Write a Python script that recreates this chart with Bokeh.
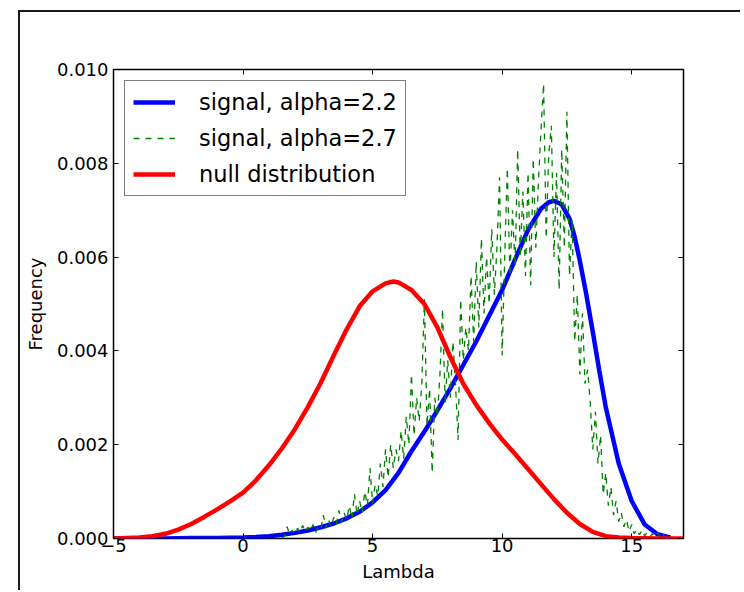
import numpy as np
from bokeh.plotting import figure
from bokeh.models import (LinearAxis, FixedTicker, Legend, LegendItem, Range1d,
                          PrintfTickFormatter, Spacer)
from bokeh.layouts import column, row
from bokeh.embed import file_html
from bokeh.resources import INLINE

# ---------------- data ----------------
x_ticks = [-5, 0, 5, 10, 15]
y_ticks = [0.0, 0.002, 0.004, 0.006, 0.008, 0.010]
x_label = "Lambda"
y_label = "Frequency"

null_x = [-5, -4.5, -4, -3.5, -3, -2.5, -2, -1.5, -1, -0.5, 0, 0.5, 1, 1.5, 2, 2.5,
          3, 3.5, 4, 4.5, 5, 5.5, 5.8, 6, 6.5, 7, 7.5, 8, 8.5, 9, 9.5, 10, 10.5,
          11, 11.5, 12, 12.5, 13, 13.5, 14, 14.5, 15, 16, 17]
null_y = [0.0, 0.00001, 0.00002, 0.00005, 0.00010, 0.00019, 0.00031, 0.00046,
          0.00062, 0.00079, 0.00098, 0.00124, 0.00156, 0.00192, 0.00233, 0.00280,
          0.00332, 0.00390, 0.00446, 0.00495, 0.00527, 0.00544, 0.00548, 0.00546,
          0.00530, 0.00500, 0.00450, 0.00387, 0.00330, 0.00285, 0.00246, 0.00211,
          0.00180, 0.00148, 0.00116, 0.00084, 0.00055, 0.00031, 0.00014, 0.00005,
          0.00002, 0.00001, 0.0, 0.0]

sig22_x = [-5, -4, -3, -2, -1, 0, 0.5, 1, 1.5, 2, 2.5, 3, 3.5, 4, 4.5, 5, 5.5, 6,
           6.5, 7, 7.5, 8, 8.5, 9, 9.5, 10, 10.5, 11, 11.5, 11.8, 12, 12.3, 12.6,
           12.8, 13, 13.25, 13.5, 13.75, 14, 14.5, 15, 15.5, 16, 16.5]
sig22_y = [0.0, 0.0, 0.0, 0.00001, 0.00001, 0.00002, 0.00003, 0.00005, 0.00008,
           0.00012, 0.00017, 0.00024, 0.00032, 0.00043, 0.00057, 0.00077, 0.00103,
           0.00140, 0.00186, 0.00228, 0.00273, 0.00320, 0.00370, 0.00420, 0.00475,
           0.00530, 0.00595, 0.00658, 0.00703, 0.00717, 0.00720, 0.00712, 0.00682,
           0.00643, 0.00592, 0.00520, 0.00440, 0.00358, 0.00280, 0.00160, 0.00080,
           0.00030, 0.00009, 0.00002]

# histogram of alpha=2.7 signal, bins of 0.1 starting at 1.5
sig27_start = 1.5
sig27_step = 0.1
sig27_y = [
    0.00000, 0.00005, 0.00025, 0.00008, 0.00018, 0.00010, 0.00022, 0.00012, 0.00028, 0.00014,
    0.00024, 0.00016, 0.00030, 0.00012, 0.00026, 0.00020, 0.00050, 0.00022, 0.00040, 0.00025,
    0.00045, 0.00030, 0.00060, 0.00035, 0.00055, 0.00040, 0.00070, 0.00042, 0.00095, 0.00050,
    0.00080, 0.00055, 0.00100, 0.00070, 0.00150, 0.00075, 0.00115, 0.00090, 0.00160, 0.00110,
    0.00190, 0.00130, 0.00200, 0.00150, 0.00190, 0.00165, 0.00230, 0.00170, 0.00260, 0.00200,
    0.00350, 0.00220, 0.00300, 0.00250, 0.00330, 0.00510, 0.00240, 0.00320, 0.00140, 0.00300,
    0.00260, 0.00350, 0.00490, 0.00290, 0.00380, 0.00300, 0.00420, 0.00330, 0.00210, 0.00510,
    0.00380, 0.00450, 0.00400, 0.00560, 0.00420, 0.00590, 0.00450, 0.00640, 0.00480, 0.00600,
    0.00500, 0.00660, 0.00520, 0.00620, 0.00770, 0.00390, 0.00600, 0.00790, 0.00560, 0.00700,
    0.00580, 0.00830, 0.00600, 0.00740, 0.00560, 0.00780, 0.00540, 0.00810, 0.00620, 0.00760,
    0.00870, 0.00970, 0.00640, 0.00820, 0.00880, 0.00600, 0.00780, 0.00530, 0.00830, 0.00620,
    0.00910, 0.00560, 0.00680, 0.00420, 0.00520, 0.00350, 0.00480, 0.00330, 0.00360, 0.00290,
    0.00190, 0.00270, 0.00160, 0.00220, 0.00094, 0.00140, 0.00070, 0.00110, 0.00050, 0.00080,
    0.00036, 0.00055, 0.00025, 0.00040, 0.00015, 0.00030, 0.00010, 0.00020, 0.00008, 0.00018,
    0.00005, 0.00014, 0.00004, 0.00010, 0.00003, 0.00012, 0.00002, 0.00010, 0.00001, 0.00000,
]
sig27_x = [round(sig27_start + i * sig27_step, 2) for i in range(len(sig27_y))]

labels = ["signal, alpha=2.2", "signal, alpha=2.7", "null distribution"]

# ---------------- figure ----------------
FONT = "DejaVu Sans"
x0, x1 = -5, 17
y0, y1 = 0, 0.010
p = figure(width=722, height=580, x_range=Range1d(x0, x1), y_range=Range1d(y0, y1),
           output_backend="svg", toolbar_location=None,
           min_border_left=93, min_border_right=59, min_border_top=57, min_border_bottom=54)
p.styles = {"border-left": "2px solid #1a1a1a", "border-top": "2px solid #1a1a1a"}
p.background_fill_color = "white"
p.border_fill_color = "white"
p.outline_line_color = "black"
p.outline_line_width = 1.5
p.outline_line_alpha = 1.0
p.xgrid.visible = False
p.ygrid.visible = False

r_blue = p.line(sig22_x, sig22_y, line_color="#0000ff", line_width=4.5)
r_green = p.line(sig27_x, sig27_y, line_color="#008000", line_width=1.3, line_dash="6 6")
r_red = p.line(null_x, null_y, line_color="#ff0000", line_width=4.5)


def style_axis(ax):
    ax.axis_line_color = None
    ax.major_tick_in = 5
    ax.major_tick_out = 0
    ax.minor_tick_in = 0
    ax.minor_tick_out = 0
    ax.major_tick_line_color = "black"
    ax.major_tick_line_width = 1
    ax.major_label_text_font = FONT
    ax.major_label_text_font_size = "18px"
    ax.major_label_text_color = "black"
    ax.axis_label_text_font = FONT
    ax.axis_label_text_font_size = "18px"
    ax.axis_label_text_font_style = "normal"
    ax.axis_label_text_color = "black"


xa = p.xaxis[0]
xa.ticker = FixedTicker(ticks=x_ticks)
xa.major_label_overrides = {-5: "\u22125"}
xa.axis_label = x_label
style_axis(xa)
xa.major_label_standoff = 0
xa.axis_label_standoff = 6

ya = p.yaxis[0]
ya.ticker = FixedTicker(ticks=y_ticks)
ya.formatter = PrintfTickFormatter(format="%.3f")
ya.axis_label = y_label
style_axis(ya)
ya.major_label_standoff = 5
ya.axis_label_standoff = 8

# tick marks only on the top and right spines (no labels)
top = LinearAxis(ticker=FixedTicker(ticks=x_ticks))
style_axis(top)
top.major_label_overrides = {t: "" for t in x_ticks}
top.major_label_standoff = 0
p.add_layout(top, "above")

right = LinearAxis(ticker=FixedTicker(ticks=y_ticks))
style_axis(right)
right.major_label_overrides = {t: "" for t in y_ticks}
right.major_label_standoff = 0
p.add_layout(right, "right")

legend = Legend(items=[LegendItem(label=labels[0], renderers=[r_blue]),
                       LegendItem(label=labels[1], renderers=[r_green]),
                       LegendItem(label=labels[2], renderers=[r_red])],
                location="top_left", margin=11, padding=8, spacing=10,
                glyph_width=42, glyph_height=26, label_height=26, label_standoff=24,
                label_text_font=FONT, label_text_font_size="22.5px",
                label_text_color="black", border_line_color="black",
                border_line_width=1.5, background_fill_color="white",
                background_fill_alpha=1.0)
p.add_layout(legend)

page = column(Spacer(height=10), row(Spacer(width=18), p))

open("out.html", "w").write(file_html(page, INLINE))
